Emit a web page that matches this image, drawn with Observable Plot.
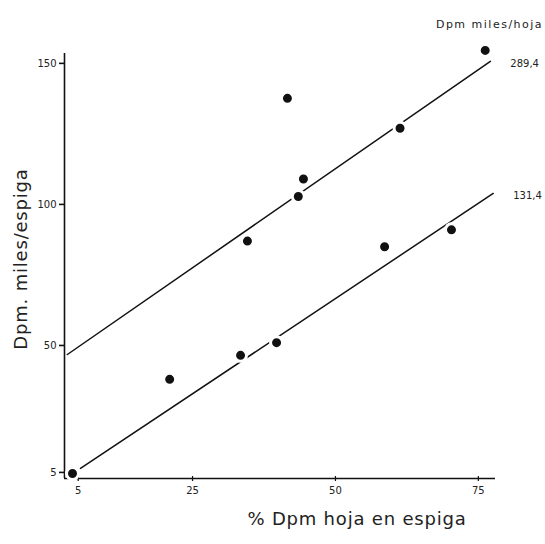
<!DOCTYPE html>
<html><head><meta charset="utf-8">
<script src="https://cdn.jsdelivr.net/npm/d3@7"></script>
<script src="https://cdn.jsdelivr.net/npm/@observablehq/plot@0.6"></script>
<style>body{margin:0;background:#fff}</style>
</head><body><div id="chart"></div>
<script>
// Data points: % Dpm hoja en espiga vs Dpm miles/espiga
const pctHoja = [4, 21, 33.4, 39.7, 34.6, 41.6, 43.5, 44.4, 58.6, 61.3, 70.3, 76.2];
const dpmEspiga = [4.6, 38, 46.5, 51, 87, 137.6, 102.8, 109, 85, 127, 91, 154.6];
// Regression lines (endpoints) per Dpm miles/hoja level
const lineNames = ["289,4", "131,4"];
const lineX = [[3.1, 77.1], [5.4, 77.6]];
const lineY = [[46.8, 150.7], [6.4, 103.9]];
const xTicks = [5, 25, 50, 75];
const yTicks = [5, 50, 100, 150];
const xDomain = [2.6, 78];
const yDomain = [2.84, 153.5];
const xTitle = "% Dpm hoja en espiga";
const yTitle = "Dpm. miles/espiga";
const legendTitle = "Dpm miles/hoja";

const points = pctHoja.map((x, i) => ({x, y: dpmEspiga[i]}));
const lines = lineNames.flatMap((name, k) => lineX[k].map((x, j) => ({name, x, y: lineY[k][j]})));
const lineEnds = lineNames.map((name, k) => ({name, x: lineX[k][1], y: lineY[k][1]}));

const chart = Plot.plot({
  width: 545, height: 544,
  marginLeft: 64, marginRight: 50, marginTop: 53, marginBottom: 66,
  style: {fontFamily: "'DejaVu Sans', sans-serif", background: "#fff"},
  x: {domain: xDomain, axis: null},
  y: {domain: yDomain, axis: null},
  marks: [
    Plot.ruleX([xDomain[0]], {stroke: "#111", strokeWidth: 1.6}),
    Plot.ruleY([yDomain[0]], {stroke: "#111", strokeWidth: 1.6}),
    Plot.ruleX(xTicks, {x: d => d, y1: yDomain[0], y2: yDomain[0], insetTop: -2, insetBottom: -3, stroke: "#111", strokeWidth: 1.2}),
    Plot.ruleY(yTicks, {y: d => d, x1: xDomain[0], x2: xDomain[0], insetLeft: -5, stroke: "#111", strokeWidth: 1.6}),
    Plot.text(xTicks, {x: d => d, frameAnchor: "bottom", dy: 15, fontSize: 10, fill: "#222"}),
    Plot.text(yTicks, {y: d => d, frameAnchor: "left", dx: -8, textAnchor: "end", fontSize: 10, fill: "#222"}),
    Plot.line(lines, {x: "x", y: "y", z: "name", stroke: "#111", strokeWidth: 1.5}),
    Plot.dot(points, {x: "x", y: "y", r: 6, fill: "#111", stroke: "#fff", strokeWidth: 3, clip: false}),
    Plot.text(lineEnds, {x: "x", y: "y", text: "name", textAnchor: "start", dx: 20, dy: 2, fontSize: 10, fill: "#222"}),
    Plot.text([legendTitle], {frameAnchor: "top-right", textAnchor: "middle", dx: -6, dy: -33, fontSize: 11, fill: "#222"}),
    Plot.text([yTitle], {frameAnchor: "left", textAnchor: "middle", rotate: -90, dx: -43, dy: -7, fontSize: 18, fill: "#222"}),
    Plot.text([xTitle], {frameAnchor: "bottom", textAnchor: "middle", dx: 77, dy: 46, fontSize: 18, fill: "#222"})
  ]
});
document.getElementById("chart").appendChild(chart);
d3.select(chart).selectAll("text").each(function() {
  const t = this.textContent;
  if (t === xTitle || t === yTitle) this.setAttribute("letter-spacing", "0.8");
  if (t === legendTitle) this.setAttribute("letter-spacing", "1.5");
});
</script>
</body></html>
